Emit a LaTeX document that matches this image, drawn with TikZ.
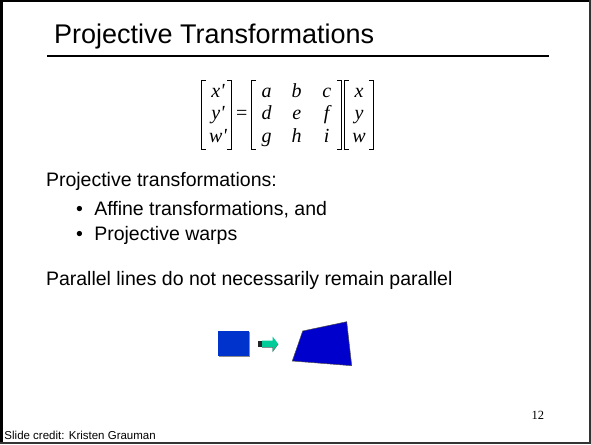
\documentclass[tikz,border=0pt]{standalone}
\usepackage{fontspec}
\setmainfont{Liberation Sans}
\newfontfamily\tms{Liberation Serif}
\begin{document}
\begin{tikzpicture}[x=1pt,y=-1pt,
  txt/.style={anchor=base west,inner sep=0pt,outer sep=0pt},
  mvar/.style={anchor=base,inner sep=0pt,font=\tms\itshape\fontsize{20}{20}\selectfont},
  brk/.style={line width=0.8pt,black}]
\useasboundingbox (0,0) rectangle (591,444);
% slide frame
\fill[black] (0,0) rectangle (3,444);
\fill[black] (0,0) rectangle (591,2.5);
\fill[black!80] (588.5,0) rectangle (591,444);
\fill[black!80] (0,441.5) rectangle (591,444);

% title and rule
\node[txt,font=\fontsize{27}{27}\selectfont] (title) at (54,43.3) {Projective Transformations};
\coordinate (ruleL) at (47,55.7);
\coordinate (ruleR) at (549,55.7);
\draw[line width=2.2pt] (ruleL) -- (ruleR);

% matrix equation: brackets
\foreach \l/\r in {201/231.7, 251.7/341.7, 344/373.3}{
  \draw[brk] (\l+4.5,80.7) -- (\l,80.7) -- (\l,149.3) -- (\l+4.5,149.3);
  \draw[brk] (\r-4.5,80.7) -- (\r,80.7) -- (\r,149.3) -- (\r-4.5,149.3);
}
\node[anchor=center,inner sep=0pt,font=\tms\fontsize{20}{20}\selectfont] (eq) at (241.7,114.5) {=};
% entries
\foreach \t/\x/\y in {x'/218/97, y'/218/119.5, w'/218/142,
  a/266.7/97, b/296.7/97, c/326.7/97,
  d/266.7/119.5, e/296.7/119.5, f/326.7/119.5,
  g/266.7/142, h/296.7/142, i/326.7/142,
  x/359/97, y/359/119.5, w/359/142}{
  \node[mvar] at (\x,\y) {\t};
}

% body text
\node[txt,font=\fontsize{19.5}{19.5}\selectfont] (pt) at (46,186) {Projective transformations:};
\node[txt,font=\fontsize{19.5}{19.5}\selectfont] (b1) at (76,215) {\textbullet};
\node[txt,font=\fontsize{19.5}{19.5}\selectfont] (i1) at (94.3,215) {Affine transformations, and};
\node[txt,font=\fontsize{19.5}{19.5}\selectfont] (b2) at (76,240.5) {\textbullet};
\node[txt,font=\fontsize{19.5}{19.5}\selectfont] (i2) at (94.3,240.5) {Projective warps};
\node[txt,font=\fontsize{19.5}{19.5}\selectfont] (par) at (46,285) {Parallel lines do not necessarily remain parallel};

% square, arrow, warped quadrilateral
\fill[black!45] (219.3,332) rectangle (250,356.7);
\fill[fill={rgb,255:red,0;green,51;blue,204}] (218.3,331) rectangle (249,355.7);
\fill[black!85] (257.7,340.7) rectangle (263,347.3);
\fill[fill={rgb,255:red,0;green,204;blue,153}] (262,340.7) -- (272.7,340.7) -- (272.7,336.7)
  -- (278.3,344) -- (272.7,351.7) -- (272.7,347.3) -- (262,347.3) -- cycle;
\draw[black!60,line width=0.4pt] (262,347.3) -- (272.7,347.3) -- (272.7,351.7) -- (278.3,344);
\fill[fill={rgb,255:red,0;green,0;blue,204},draw=black!70,line width=0.5pt]
  (302.7,331) -- (346.7,321.7) -- (351.7,365.7) -- (292.3,361) -- cycle;

% page number and credit
\node[txt,font=\tms\fontsize{12.5}{12.5}\selectfont] (num) at (531.5,419.3) {12};
\node[txt,font=\fontsize{11.5}{11.5}\selectfont] (credit) at (4.5,439.5) {Slide credit: Kristen Grauman};
\end{tikzpicture}
\end{document}
